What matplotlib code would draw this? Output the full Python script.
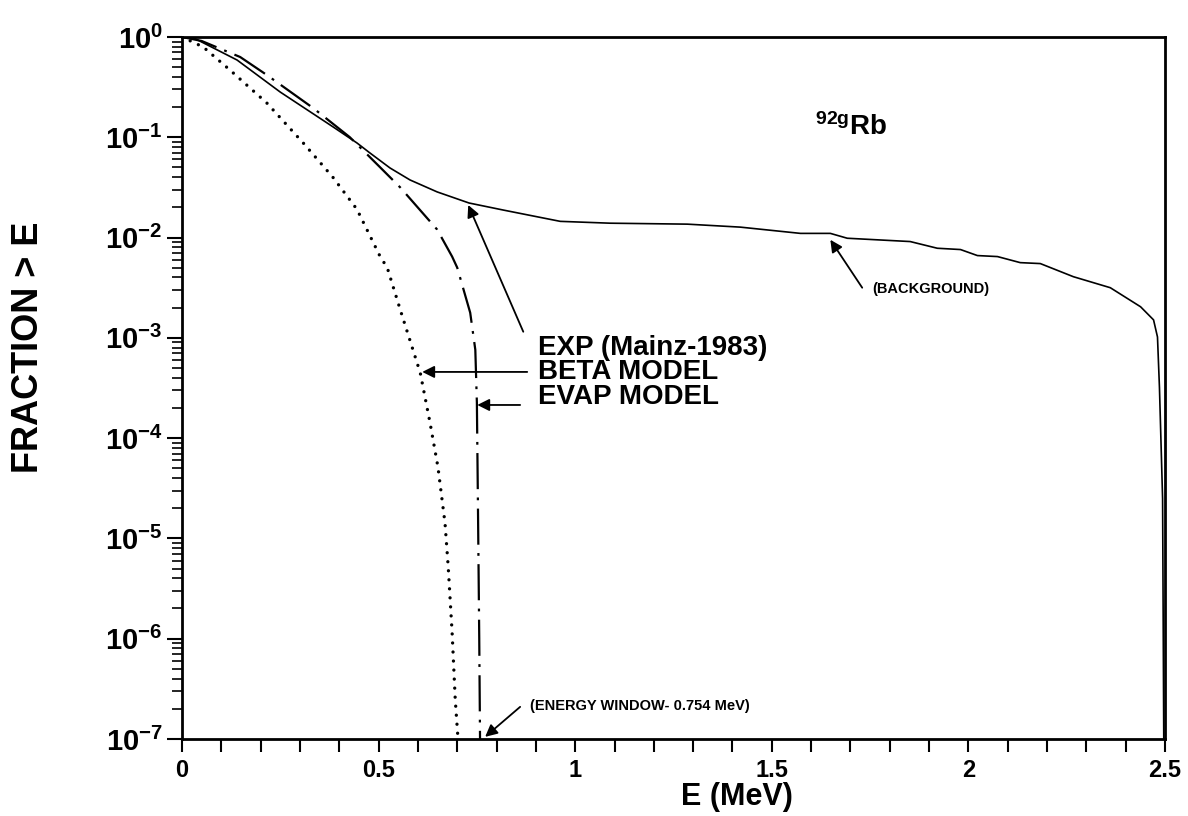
import numpy as np
import matplotlib
matplotlib.use('Agg')
import matplotlib.pyplot as plt
from matplotlib.ticker import FixedLocator, NullFormatter

# ── Fonts ──
plt.rcParams['font.family'] = ['Liberation Sans', 'DejaVu Sans']
plt.rcParams['font.weight'] = 'bold'
plt.rcParams['mathtext.fontset'] = 'custom'
plt.rcParams['mathtext.rm'] = 'Liberation Sans:bold'
plt.rcParams['mathtext.it'] = 'Liberation Sans:bold'
plt.rcParams['mathtext.bf'] = 'Liberation Sans:bold'
plt.rcParams['mathtext.sf'] = 'Liberation Sans:bold'
plt.rcParams['lines.scale_dashes'] = False

# ── Data ──
# EXP (Mainz-1983), solid line
exp_E = [0.0, 0.03, 0.14, 0.25, 0.384, 0.445, 0.478, 0.529, 0.58, 0.649, 0.73,
         0.817, 0.90, 0.962, 1.089, 1.285, 1.42, 1.573, 1.649, 1.692, 1.852,
         1.921, 1.98, 2.023, 2.074, 2.132, 2.183, 2.267, 2.361, 2.438, 2.471,
         2.481, 2.486, 2.494, 2.497]
exp_F = [1.0, 0.977, 0.589, 0.282, 0.127, 0.0877, 0.0697, 0.0494, 0.0375, 0.0285,
         0.0221, 0.0188, 0.0162, 0.0145, 0.0139, 0.0136, 0.0127, 0.0110, 0.0110,
         0.00984, 0.00912, 0.00782, 0.00759, 0.00661, 0.00646, 0.00562, 0.00550,
         0.00407, 0.00316, 0.00204, 0.00151, 0.00102, 3.2e-4, 2.5e-5, 1e-7]

# BETA MODEL, dotted line
beta_E = [0.0, 0.054, 0.122, 0.216, 0.309, 0.384, 0.445, 0.504, 0.522, 0.555,
          0.606, 0.631, 0.651, 0.669, 0.677, 0.687, 0.695, 0.702]
beta_F = [1.0, 0.794, 0.468, 0.219, 0.0871, 0.0398, 0.0191, 0.00646, 0.00501,
          0.00191, 4.47e-4, 1.41e-4, 5.13e-5, 1.41e-5, 5.25e-6, 1.15e-6,
          2.45e-7, 1.0e-7]

# EVAP MODEL, long-dash / short-dash line
evap_E = [0.0, 0.05, 0.148, 0.216, 0.334, 0.427, 0.504, 0.555, 0.649, 0.687,
          0.70, 0.733, 0.746, 0.750, 0.753, 0.756, 0.758]
evap_F = [1.0, 0.912, 0.631, 0.417, 0.195, 0.1, 0.0501, 0.0316, 0.0120, 0.00646,
          0.00501, 0.00178, 7.6e-4, 2.24e-4, 1.62e-5, 1e-6, 1e-7]

x_major = [0, 0.5, 1, 1.5, 2, 2.5]
x_labels = ['0', '0.5', '1', '1.5', '2', '2.5']
y_major = [1e-7, 1e-6, 1e-5, 1e-4, 1e-3, 1e-2, 1e-1, 1e0]
y_labels = [r'$\mathrm{10^{-7}}$', r'$\mathrm{10^{-6}}$', r'$\mathrm{10^{-5}}$',
            r'$\mathrm{10^{-4}}$', r'$\mathrm{10^{-3}}$', r'$\mathrm{10^{-2}}$',
            r'$\mathrm{10^{-1}}$', r'$\mathrm{10^{0}}$']

# ── Figure ──
fig = plt.figure(figsize=(11.88, 8.16), dpi=100)
ax = fig.add_axes([0.1532, 0.0944, 0.8274, 0.8603])

ax.plot(exp_E, exp_F, color='black', lw=1.2)
ax.plot(beta_E, beta_F, color='black', lw=2.4, dashes=(0.01, 6.5),
        dash_capstyle='round')
ax.plot(evap_E, evap_F, color='black', lw=1.6, dashes=(26, 6, 2, 6))

ax.set_yscale('log')
ax.set_xlim(0, 2.5)
ax.set_ylim(1e-7, 1)

ax.set_xticks(x_major)
ax.set_xticklabels(x_labels, fontsize=17, fontweight='bold')
ax.xaxis.set_minor_locator(FixedLocator(np.arange(0, 2.51, 0.1)))
ax.set_yticks(y_major)
ax.set_yticklabels(y_labels, fontsize=21)
ax.yaxis.set_minor_formatter(NullFormatter())

ax.tick_params(axis='x', which='both', direction='out', length=9.5, width=1.5,
               pad=5)
ax.tick_params(axis='y', which='major', direction='out', length=11, width=1.5,
               pad=3)
ax.tick_params(axis='y', which='minor', direction='out', length=7, width=1.2)
for s in ax.spines.values():
    s.set_linewidth(2)

# ── Annotations ──
arrow = dict(arrowstyle='-|>', color='black', lw=1.3, mutation_scale=18,
             shrinkA=0, shrinkB=0)
ax.annotate('', xy=(0.728, 0.0211), xytext=(0.868, 1.15e-3), arrowprops=arrow)
ax.annotate('', xy=(0.611, 4.57e-4), xytext=(0.878, 4.57e-4), arrowprops=arrow)
ax.annotate('', xy=(0.751, 2.14e-4), xytext=(0.860, 2.14e-4), arrowprops=arrow)
ax.annotate('', xy=(0.771, 1.05e-7), xytext=(0.860, 2.09e-7), arrowprops=arrow)
ax.annotate('', xy=(1.649, 9.5e-3), xytext=(1.730, 3.16e-3), arrowprops=arrow)

ax.text(0.906, 10**-3.10, 'EXP (Mainz-1983)', fontsize=20, va='center', ha='left')
ax.text(0.906, 10**-3.34, 'BETA MODEL', fontsize=20, va='center', ha='left')
ax.text(0.906, 10**-3.59, 'EVAP MODEL', fontsize=20, va='center', ha='left')
ax.text(0.886, 10**-6.67, '(ENERGY WINDOW- 0.754 MeV)', fontsize=10.5,
        va='center', ha='left')
ax.text(1.756, 10**-2.51, '(BACKGROUND)', fontsize=10.5, va='center', ha='left')
ax.text(1.611, 10**-0.977, r'$^{92g}\mathrm{Rb}$', fontsize=20, va='baseline',
        ha='left')

# axis titles
fig.text(737 / 1188, 1 - 797 / 816, 'E (MeV)', fontsize=22, ha='center',
         va='center')
fig.text(29 / 1188, 1 - 347 / 816, 'FRACTION > E', fontsize=26, ha='center',
         va='center', rotation=90)

fig.savefig('out.png', dpi=100)
